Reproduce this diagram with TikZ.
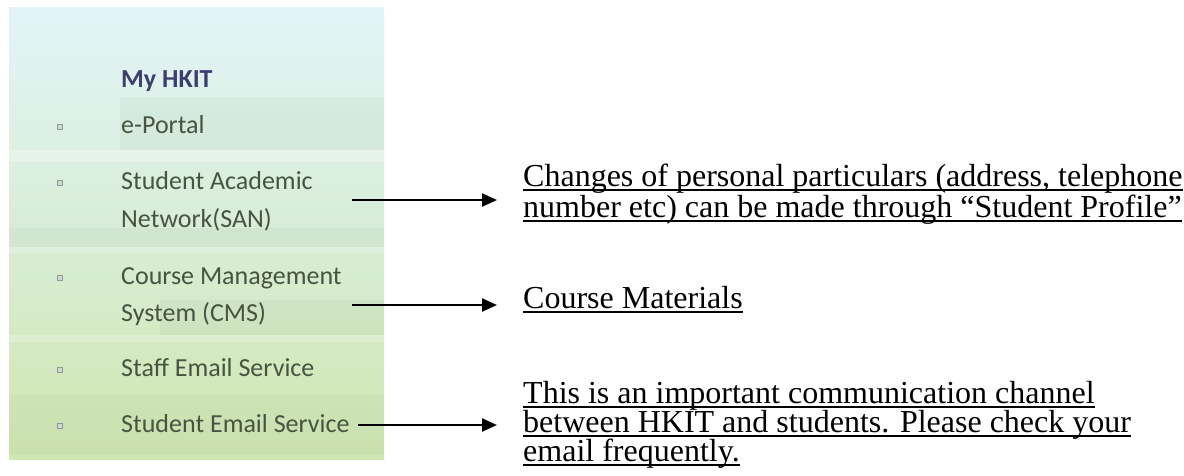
\documentclass[tikz,border=0pt]{standalone}
\usepackage{fontspec}
\setmainfont{Liberation Serif}
\newfontfamily\menufont{Carlito}
\usetikzlibrary{arrows.meta}
\definecolor{paneltop}{HTML}{E2F4F8}
\definecolor{panelmid}{HTML}{D8EDD6}
\definecolor{panelbot}{HTML}{CFE7B0}
\definecolor{bandcol}{HTML}{8FA88A}
\definecolor{headcol}{HTML}{3C3F6E}
\definecolor{itemcol}{HTML}{465440}
\definecolor{bulcol}{HTML}{8C9C94}
\tikzset{
  menuitem/.style={anchor=base west, inner sep=0pt, font=\menufont\fontsize{26}{31}\selectfont, text=itemcol},
  menuhead/.style={menuitem, font=\menufont\bfseries\fontsize{26}{31}\selectfont, text=headcol},
  bulletmark/.style={draw=bulcol, fill=white!60!bulcol, line width=0.8pt, minimum size=5pt, inner sep=0pt},
  note/.style={anchor=base west, inner sep=0pt, text height=21pt, text depth=5pt, font=\fontsize{32}{29}\selectfont, text=black},
  ul/.style={line width=1.7pt, black},
  arr/.style={line width=2.4pt, -{Triangle[length=15pt,width=13pt]}, shorten >=26pt},
  band/.style={fill=bandcol, opacity=0.09},
}
\begin{document}
\begin{tikzpicture}[x=1pt,y=-1pt]
\useasboundingbox (0,0) rectangle (1184,475);
\fill[white] (0,0) rectangle (1184,475);
% panel background
\shade[top color=paneltop, bottom color=panelbot, middle color=panelmid] (9,7) rectangle (384,459);
\fill[band] (120,97) rectangle (384,150);
\fill[band] (9,228) rectangle (384,247);
\fill[band] (160,300) rectangle (384,335);
\fill[band] (9,395) rectangle (384,455);
\fill[white, opacity=0.30] (9,150) rectangle (384,162);
\fill[white, opacity=0.22] (9,247) rectangle (384,253);
\fill[white, opacity=0.22] (9,335) rectangle (384,342);
% menu
\node[menuhead] (head) at (121,87) {My HKIT};
\node[menuitem] (portal) at (121,133) {e-Portal};
\node[menuitem] (san) at (121,189) {Student Academic};
\node[menuitem] (san2) at (121,227) {Network(SAN)};
\node[menuitem] (cms) at (121,284) {Course Management};
\node[menuitem] (cms2) at (121,321) {System (CMS)};
\node[menuitem] (staff) at (121,376) {Staff Email Service};
\node[menuitem] (email) at (121,432) {Student Email Service};
\node[bulletmark] (b1) at (60,127) {};
\node[bulletmark] (b2) at (60,183) {};
\node[bulletmark] (b3) at (60,278) {};
\node[bulletmark] (b4) at (60,370) {};
\node[bulletmark] (b5) at (60,426) {};
% notes
\node[note] (n1a) at (523,186) {Changes of personal particulars (address, telephone};
\node[note] (n1b) at (523,217) {number etc) can be made through “Student Profile”};
\node[note] (n2) at (523,308) {Course Materials};
\node[note] (n3a) at (523,403) {This is an important communication channel\ };
\node[note] (n3b) at (523,432) {between HKIT and students. Please check your\ };
\node[note] (n3c) at (523,461) {email frequently.};
\foreach \n in {n1a,n1b,n2,n3a,n3b,n3c}
  \draw[ul] ([yshift=-4pt]\n.base west) -- ([yshift=-4pt]\n.base east);
% arrows
\coordinate (s1) at (352,200);
\coordinate (s2) at (352,305);
\coordinate (s3) at (358,425);
\draw[arr] (s1) -- (s1 -| n1a.west);
\draw[arr] (s2) -- (s2 -| n2.west);
\draw[arr] (s3) -- (s3 -| n3a.west);
\end{tikzpicture}
\end{document}
